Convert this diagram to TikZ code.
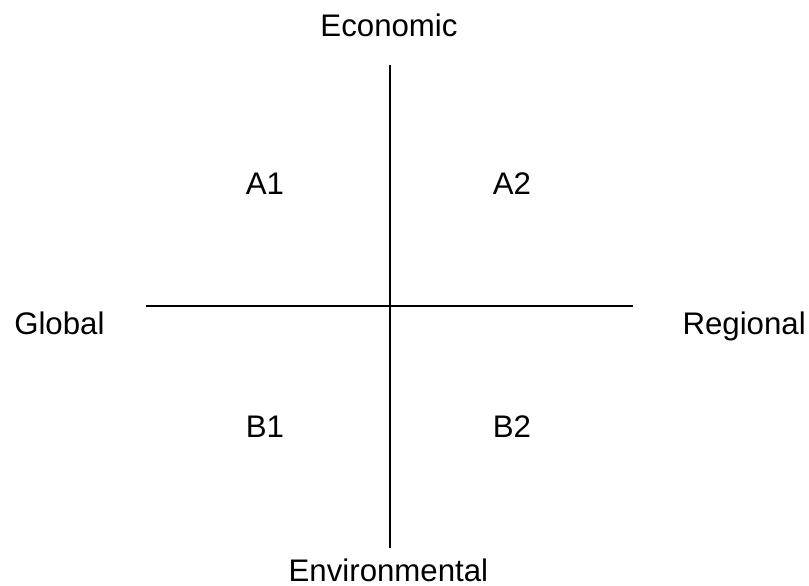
\documentclass[tikz,border=0pt]{standalone}
\usepackage{fontspec}
\setmainfont{Liberation Sans}
\usepackage{tikz}
\tikzset{lbl/.style={inner sep=0pt,font=\fontsize{22.2}{26}\selectfont}}

\begin{document}
\begin{tikzpicture}
\useasboundingbox (0,0) rectangle (20.225,14.625);
\coordinate (top) at (9.75,13.0);
\coordinate (bot) at (9.75,0.925);
\coordinate (lft) at (3.65,6.975);
\coordinate (rgt) at (15.825,6.975);
\draw[line width=1.2pt]
(top)--(bot)
(lft)--(rgt)
;
\node[lbl,anchor=base] (econ) at (9.725,13.7){Economic};
\node[lbl,anchor=base] (env) at (9.71,0.1){Environmental};
\node[lbl,anchor=base west] (glob) at (0.35,6.25){Global};
\node[lbl,anchor=base east] (reg) at (20.15,6.25){Regional};
\node[lbl,anchor=base] (a1) at (6.625,9.75){A1};
\node[lbl,anchor=base] (a2) at (12.8,9.75){A2};
\node[lbl,anchor=base] (b1) at (6.625,3.7){B1};
\node[lbl,anchor=base] (b2) at (12.8,3.7){B2};
\end{tikzpicture}
\end{document}
